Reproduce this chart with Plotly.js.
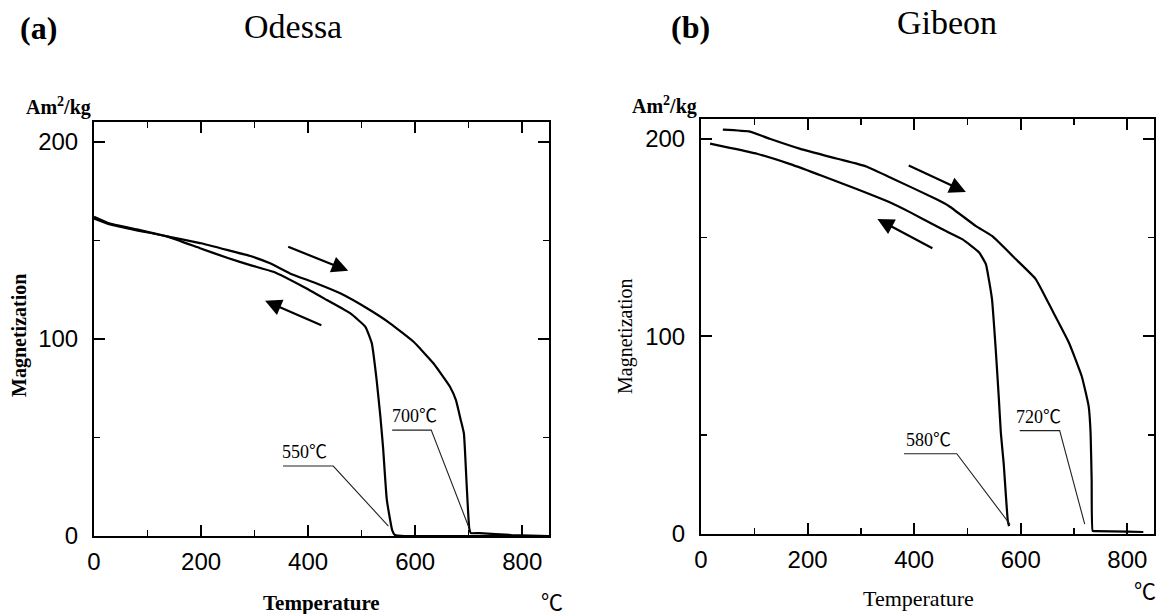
<!DOCTYPE html>
<html>
<head>
<meta charset="utf-8">
<script src="https://cdn.plot.ly/plotly-3.0.1.min.js"></script>
<style>
  html, body { margin: 0; padding: 0; background: #fff; }
  #chart { width: 1159px; height: 614px; }
</style>
</head>
<body>
<div id="chart"></div>
<script>
// Thermomagnetic curves (magnetization vs temperature) of two iron meteorites.

// (a) Odessa – heating run
const odessaHeatT = [0, 30, 80, 136, 198, 250, 292, 329, 366, 416, 460, 510, 553, 597, 634, 665, 676, 685, 691, 696, 701, 704, 720, 780, 850];
const odessaHeatM = [162, 158.5, 155.5, 152, 148.6, 145, 142, 138.3, 133.2, 128.1, 123.1, 115.5, 107.9, 98.5, 87.6, 75.7, 69, 59, 52, 27, 4, 1.5, 1.5, 0.5, 0];
// (a) Odessa – cooling run
const odessaCoolT = [0, 30, 80, 136, 198, 250, 292, 335, 391, 435, 479, 507, 519, 528, 535, 540, 547, 557, 562, 580, 850];
const odessaCoolM = [161, 158, 155, 152, 146, 141, 137.4, 134, 126.4, 119.7, 112.9, 106.1, 97.7, 79.1, 60.5, 45, 18.4, 3, 0.5, 0, 0];

// (b) Gibeon – heating run
const gibeonHeatT = [41, 92, 129, 185, 254, 310, 353, 441, 465, 516, 546, 591, 628, 658, 690, 714.5, 727.5, 731, 733, 735, 740, 800, 830];
const gibeonHeatM = [204.6, 203.6, 200, 195, 190, 186, 180.7, 169.5, 166, 155.8, 150.8, 139, 129, 113.7, 97, 79.7, 64.5, 51.3, 27.4, 1.5, 1.5, 1.2, 1];
// (b) Gibeon – cooling run
const gibeonCoolT = [17, 54, 105, 166, 228, 292, 353, 391, 452, 490, 521.5, 534.6, 540, 546, 553, 559, 562.6, 568, 575.7, 578];
const gibeonCoolM = [197.5, 195.4, 192.4, 187.3, 181.2, 174.6, 168, 163, 154.3, 149.2, 142.6, 136.5, 129, 118.8, 93.4, 68, 51.3, 35.5, 6.6, 4];

// Curie point labels
const odessaCurie = [550, 700];
const gibeonCurie = [580, 720];

const serif = 'Liberation Serif, Times New Roman, Noto Sans CJK JP, serif';
const sans = 'Liberation Sans, Arial, sans-serif';
const W = 1159, H = 614;
const px = v => v / W;
const py = v => 1 - v / H;

function curve(x, y, xa, ya) {
  return { x, y, xaxis: xa, yaxis: ya, type: 'scatter', mode: 'lines',
           line: { color: '#000', width: 2.2, shape: 'spline', smoothing: 0.4 },
           hoverinfo: 'skip', showlegend: false };
}

const traces = [
  curve(odessaHeatT, odessaHeatM, 'x', 'y'),
  curve(odessaCoolT, odessaCoolM, 'x', 'y'),
  curve(gibeonHeatT, gibeonHeatM, 'x2', 'y2'),
  curve(gibeonCoolT, gibeonCoolM, 'x2', 'y2')
];

function xAxis(domain, anchor) {
  return {
    domain, anchor, range: [0, 850], tick0: 0, dtick: 200,
    showline: true, linecolor: '#000', linewidth: 2, mirror: 'ticks',
    ticks: 'inside', ticklen: 11, tickwidth: 2, tickcolor: '#000',
    minor: { dtick: 100, ticks: 'inside', ticklen: 6, tickwidth: 1.5, tickcolor: '#000' },
    showgrid: false, zeroline: false, ticklabelstandoff: 3,
    tickfont: { family: sans, size: 24, color: '#000' }
  };
}
function yAxis(domain, anchor) {
  return {
    domain, anchor, range: [0, 210], tick0: 0, dtick: 100,
    showline: true, linecolor: '#000', linewidth: 2, mirror: 'ticks',
    ticks: 'inside', ticklen: 11, tickwidth: 2, tickcolor: '#000',
    minor: { dtick: 50, ticks: 'inside', ticklen: 6, tickwidth: 1.5, tickcolor: '#000' },
    showgrid: false, zeroline: false, ticklabelstandoff: 9,
    tickfont: { family: sans, size: 24, color: '#000' }
  };
}

function paperText(text, x, y, size, bold, extra) {
  return Object.assign({
    text: bold ? '<b>' + text + '</b>' : text,
    xref: 'paper', yref: 'paper', x: px(x), y: py(y),
    xanchor: 'center', yanchor: 'middle', showarrow: false,
    font: { family: serif, size, color: '#000' }
  }, extra || {});
}

function arrow(xa, ya, headX, headY, tailX, tailY) {
  return {
    xref: xa, yref: ya, axref: xa, ayref: ya,
    x: headX, y: headY, ax: tailX, ay: tailY, text: '',
    showarrow: true, arrowhead: 2, arrowsize: 1.5, arrowwidth: 2.2, arrowcolor: '#000'
  };
}

// Curie label: text sitting on a short underline, with a thin leader down to the curve
function curieLabel(xa, ya, value, textX, lineY, x1, x2, tipY) {
  return {
    ann: {
      text: value + '℃', xref: xa, yref: ya, x: textX, y: lineY + 1, xanchor: 'center', yanchor: 'bottom',
      showarrow: false, font: { family: serif, size: 18, color: '#000' }
    },
    shape: {
      type: 'path', xref: xa, yref: ya,
      path: `M ${x1},${lineY} L ${x2},${lineY} L ${value},${tipY}`,
      line: { color: '#222', width: 1.1 }
    }
  };
}

const labels = [
  curieLabel('x', 'y', odessaCurie[0], 393, 35.5, 353, 447, 5),
  curieLabel('x', 'y', odessaCurie[1], 598, 53.7, 557, 630, 4.6),
  curieLabel('x2', 'y2', gibeonCurie[0], 427, 40.6, 381, 480, 4.8),
  curieLabel('x2', 'y2', gibeonCurie[1], 634, 52.3, 598, 673, 5)
];

const annotations = [
  paperText('(a)', 38, 28, 32, true),
  paperText('Odessa', 293, 26, 34, false),
  paperText('(b)', 690, 27, 32, true),
  paperText('Gibeon', 947, 22, 34, false),
  paperText('Am<sup>2</sup>/kg', 58, 107, 20, true),
  paperText('Am<sup>2</sup>/kg', 664, 106, 20, true),
  paperText('Magnetization', 19, 336, 20, true, { textangle: -90 }),
  paperText('Magnetization', 625, 336, 20, false, { textangle: -90 }),
  paperText('Temperature', 321, 603, 21, true),
  paperText('Temperature', 918, 598, 22, false),
  paperText('℃', 552, 602, 22, false),
  paperText('℃', 1145, 591, 22, false),
  // run direction arrows
  arrow('x', 'y', 475, 134.5, 360, 147),
  arrow('x', 'y', 319.6, 119.3, 427.5, 106.6),
  arrow('x2', 'y2', 497, 173, 387, 186.8),
  arrow('x2', 'y2', 331, 159.4, 437, 144.2)
].concat(labels.map(l => l.ann));

const layout = {
  width: W, height: H, autosize: false,
  margin: { l: 0, r: 0, t: 0, b: 0 },
  paper_bgcolor: '#fff', plot_bgcolor: '#fff',
  showlegend: false,
  xaxis: xAxis([94 / W, 549 / W], 'y'),
  yaxis: yAxis([(H - 536) / H, (H - 122) / H], 'x'),
  xaxis2: xAxis([701 / W, 1154 / W], 'y2'),
  yaxis2: yAxis([(H - 534) / H, (H - 119) / H], 'x2'),
  annotations,
  shapes: labels.map(l => l.shape)
};

Plotly.newPlot('chart', traces, layout, { staticPlot: true, displayModeBar: false });
</script>
</body>
</html>
